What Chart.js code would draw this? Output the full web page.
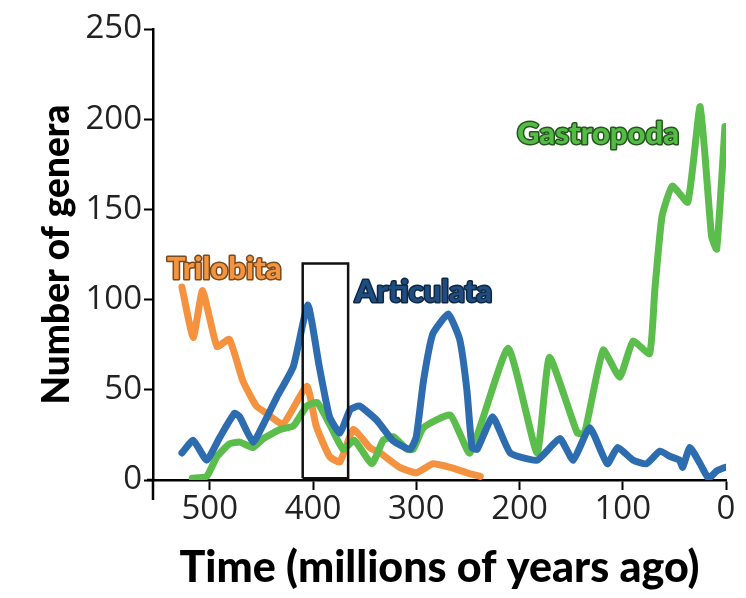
<!DOCTYPE html>
<html>
<head>
<meta charset="utf-8">
<script src="https://cdn.jsdelivr.net/npm/chart.js@4.4.1/dist/chart.umd.min.js"></script>
<style>
  html, body { margin: 0; padding: 0; background: #fff; }
  #wrap { width: 746px; height: 598px; }
</style>
</head>
<body>
<div id="wrap"><canvas id="fossilChart" width="746" height="598"></canvas></div>
<script>
// Ages in millions of years ago, counts = number of genera
const triloAge = [527, 516, 507, 493, 481, 468, 455, 445, 429, 406, 397, 384, 374, 361, 345, 335, 316, 300, 284, 267, 251, 238];
const triloCount = [107, 79, 105, 74, 78, 55, 41, 37, 31, 52, 30, 13, 10, 28, 18, 15, 7, 4, 9, 7, 4, 2];

const articAge = [527, 516, 503, 490, 476, 471, 458, 448, 435, 419, 405, 394, 384, 374, 364, 355, 338, 323, 306, 300, 293, 284, 269, 258, 251, 246, 241, 226, 209, 183, 161, 148, 132, 115, 105, 90, 77, 64, 54, 45, 42, 35, 25, 17, 9, 1];
const articCount = [15, 22, 11, 24, 37, 35, 21, 31, 46, 63, 97, 63, 35, 26, 39, 41, 33, 22, 17, 24, 55, 81, 92, 78, 50, 18, 17, 35, 15, 11, 23, 11, 29, 9, 18, 11, 9, 16, 13, 11, 7, 18, 9, 1, 5, 7];

const gastroAge = [517, 503, 493, 481, 471, 458, 448, 432, 419, 406, 396, 384, 371, 360, 343, 332, 322, 309, 303, 293, 267, 248, 211, 183, 171, 144, 137, 119, 103, 90, 74, 69, 62, 52, 37, 25, 14, 9, 1];
const gastroCount = [1, 2, 13, 20, 21, 18, 23, 28, 30, 41, 43, 31, 17, 22, 9, 22, 24, 17, 17, 29, 36, 15, 73, 15, 68, 26, 26, 72, 57, 77, 70, 105, 146, 163, 154, 207, 135, 128, 196];

// highlighted interval (box)
const boxAge = [410, 410, 366, 366, 410];
const boxCount = [1, 120, 120, 1, 1];

const yTicks = [0, 50, 100, 150, 200, 250];
const xTicks = [500, 400, 300, 200, 100, 0];

// series labels: [text, age, count, fill, outline]
const seriesLabels = [
    ['Trilobita', 486, 117, '#f39440', '#7a4a1c'],
    ['Articulata', 293, 104, '#1f4d80', '#0e2744'],
    ['Gastropoda', 124, 192, '#55bb47', '#24561d']
];

function toPoints(xs, ys) {
    return xs.map((x, i) => ({ x: x, y: ys[i] }));
}

const labelPlugin = {
    id: 'seriesLabels',
    afterDatasetsDraw(chart) {
        const ctx = chart.ctx;
        const xs = chart.scales.x, ys = chart.scales.y;
        ctx.save();
        ctx.font = '900 31px Lato';
        ctx.textAlign = 'center';
        ctx.textBaseline = 'middle';
        ctx.lineJoin = 'round';
        seriesLabels.forEach(l => {
            const px = xs.getPixelForValue(l[1]);
            const py = ys.getPixelForValue(l[2]);
            ctx.lineWidth = 3;
            ctx.strokeStyle = l[4];
            ctx.strokeText(l[0], px, py);
            ctx.fillStyle = l[3];
            ctx.fillText(l[0], px, py);
        });
        // y axis runs a bit below the x axis
        const left = chart.chartArea.left, bottom = chart.chartArea.bottom;
        ctx.strokeStyle = '#000';
        ctx.lineWidth = 2.5;
        ctx.beginPath();
        ctx.moveTo(left, bottom);
        ctx.lineTo(left, bottom + 20);
        ctx.moveTo(left - 6, bottom);
        ctx.lineTo(left, bottom);
        ctx.stroke();
        ctx.restore();
    }
};

const lineStyle = {
    borderWidth: 7,
    pointRadius: 0,
    tension: 0.15,
    fill: false,
    borderJoinStyle: 'round',
    borderCapStyle: 'round'
};

const ctx = document.getElementById('fossilChart').getContext('2d');
const chart = new Chart(ctx, {
    type: 'line',
    data: {
        datasets: [
            {
                label: 'box',
                data: toPoints(boxAge, boxCount),
                borderColor: '#111',
                borderWidth: 2.5,
                pointRadius: 0,
                tension: 0,
                fill: false
            },
            Object.assign({ label: 'Articulata', data: toPoints(articAge, articCount), borderColor: '#2e6cb0' }, lineStyle),
            Object.assign({ label: 'Gastropoda', data: toPoints(gastroAge, gastroCount), borderColor: '#5bbd4b' }, lineStyle),
            Object.assign({ label: 'Trilobita', data: toPoints(triloAge, triloCount), borderColor: '#f5923f' }, lineStyle)
        ]
    },
    options: {
        responsive: false,
        animation: false,
        layout: {
            padding: { left: 0, right: 20, top: 29, bottom: 0 }
        },
        plugins: {
            legend: { display: false },
            tooltip: { enabled: false }
        },
        scales: {
            x: {
                type: 'linear',
                reverse: true,
                min: 0,
                max: 555,
                afterFit: s => { s.height = 118; },
                afterBuildTicks: s => { s.ticks = xTicks.map(v => ({ value: v })); },
                ticks: {
                    color: '#222',
                    font: { family: 'Open Sans', size: 33 },
                    padding: 0,
                    maxRotation: 0
                },
                grid: {
                    drawOnChartArea: false,
                    drawTicks: true,
                    tickLength: 10,
                    tickWidth: 2,
                    tickColor: '#000'
                },
                border: { display: true, color: '#000', width: 2.5 },
                title: {
                    display: true,
                    text: 'Time (millions of years ago)',
                    color: '#000',
                    font: { family: 'Lato', weight: 900, size: 43 },
                    padding: { top: 0, bottom: 4 }
                }
            },
            y: {
                type: 'linear',
                min: 0,
                max: 250,
                afterFit: s => { s.width = 153; },
                afterBuildTicks: s => { s.ticks = yTicks.map(v => ({ value: v })); },
                ticks: {
                    color: '#222',
                    font: { family: 'Open Sans', size: 33 },
                    padding: 2
                },
                grid: {
                    drawOnChartArea: false,
                    drawTicks: true,
                    tickLength: 9,
                    tickWidth: 2,
                    tickColor: '#000'
                },
                border: { display: true, color: '#000', width: 2.5 },
                title: {
                    display: true,
                    text: 'Number of genera',
                    color: '#000',
                    font: { family: 'Lato', weight: 900, size: 37 },
                    padding: { top: 35, bottom: 0 }
                }
            }
        }
    },
    plugins: [labelPlugin]
});
</script>
</body>
</html>
